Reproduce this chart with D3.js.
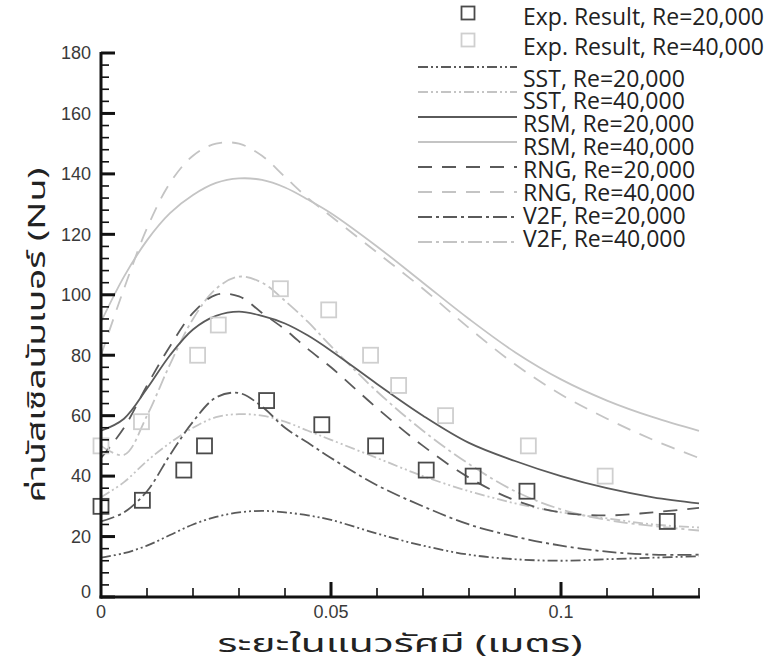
<!DOCTYPE html>
<html>
<head>
<meta charset="utf-8">
<script src="https://cdn.jsdelivr.net/npm/d3@7"></script>
<style>
  html, body { margin: 0; padding: 0; background: #fff; }
  svg { display: block; }
</style>
</head>
<body>
<script>
// ---------------- data ----------------
const xTicks = [0, 0.05, 0.1];
const xTickLabels = ["0", "0.05", "0.1"];
const yTicks = [0, 20, 40, 60, 80, 100, 120, 140, 160, 180];
const xMinorStep = 0.01;
const yMinorStep = 4;

const exp20X = [0, 0.009, 0.018, 0.0225, 0.036, 0.048, 0.0597, 0.0707, 0.0809, 0.0926, 0.1231];
const exp20Y = [30, 32, 42, 50, 65, 57, 50, 42, 40, 35, 25];
const exp40X = [0, 0.0088, 0.021, 0.0255, 0.039, 0.0495, 0.0586, 0.0647, 0.0749, 0.0929, 0.1096];
const exp40Y = [50, 58, 80, 90, 102, 95, 80, 70, 60, 50, 40];

const curveX = [0, 0.005, 0.01, 0.015, 0.02, 0.025, 0.03, 0.035, 0.04, 0.045, 0.05, 0.06, 0.07, 0.08, 0.09, 0.1, 0.11, 0.12, 0.13];
const sst20 = [13, 14.5, 17, 20.5, 24, 26.5, 28, 28.5, 28, 27, 25.5, 21, 17, 14, 12.5, 12, 12.5, 13, 13.5];
const sst40 = [33, 38, 45, 51, 56, 59.5, 60.5, 60, 58, 55, 52, 46, 40, 35, 31, 28, 26, 24, 23];
const rsm20 = [55, 59, 69, 80, 88.5, 93, 94.4, 93, 90.5, 86.5, 81.5, 70.5, 60, 51, 45, 40, 36, 33, 31];
const rsm40 = [91, 106, 118, 127, 133, 137, 138.5, 138, 135.5, 131.5, 127, 116, 104, 92, 81, 72, 65, 59.5, 55];
const rng20 = [46, 56, 70, 83, 94, 100, 99.5, 94, 88.5, 82, 76, 62.5, 50, 39.5, 32, 28, 27, 28, 29.5];
const rng40 = [80, 102, 122, 137, 146, 150, 150, 146, 139, 132, 126, 114, 102, 89, 77, 67, 59, 52, 46];
const v2f20 = [25, 28, 35, 47, 58, 66, 67.5, 63, 56, 51, 46, 37, 30, 24, 20, 17, 15, 14, 14];
const v2f40 = [50, 47, 60, 77, 92, 102, 106, 104, 98, 91, 83, 68, 55, 44, 35, 29, 25.5, 23.5, 22];

const legendLabels = [
  "Exp. Result, Re=20,000", "Exp. Result, Re=40,000",
  "SST, Re=20,000", "SST, Re=40,000",
  "RSM, Re=20,000", "RSM, Re=40,000",
  "RNG, Re=20,000", "RNG, Re=40,000",
  "V2F, Re=20,000", "V2F, Re=40,000"
];

// ---------------- styles ----------------
const DARK = "#5a5a5a", LIGHT = "#c4c4c4";
const SQ_DARK = "#4a4a4a", SQ_LIGHT = "#cfcfcf";
const AXIS = "#111";
const dashSST = "10,3,2,3,2,3";
const dashRNG = "14,10";
const dashV2F = "14,4,3,4";

const series = [
  { name: "SST20", y: sst20, color: DARK, dash: dashSST },
  { name: "SST40", y: sst40, color: LIGHT, dash: dashSST },
  { name: "RSM20", y: rsm20, color: DARK, dash: null },
  { name: "RSM40", y: rsm40, color: LIGHT, dash: null },
  { name: "RNG20", y: rng20, color: DARK, dash: dashRNG },
  { name: "RNG40", y: rng40, color: LIGHT, dash: dashRNG },
  { name: "V2F20", y: v2f20, color: DARK, dash: dashV2F },
  { name: "V2F40", y: v2f40, color: LIGHT, dash: dashV2F }
];

const W = 776, H = 664;
const svg = d3.select("body").append("svg").attr("width", W).attr("height", H);

const x = d3.scaleLinear().domain([0, 0.13]).range([101, 699]);
const y = d3.scaleLinear().domain([0, 180]).range([597, 53]);

// curves
const line = d3.line().x(d => x(d[0])).y(d => y(d[1])).curve(d3.curveCatmullRom.alpha(0.5));
const plot = svg.append("g");
const order = ["RSM40", "RNG40", "V2F40", "SST40", "RSM20", "RNG20", "V2F20", "SST20"];
order.forEach(nm => {
  const s = series.find(d => d.name === nm);
  const pts = curveX.map((xv, i) => [xv, s.y[i]]);
  plot.append("path")
    .attr("d", line(pts))
    .attr("fill", "none")
    .attr("stroke", s.color)
    .attr("stroke-width", 1.8)
    .attr("stroke-dasharray", s.dash);
});

// squares
const SQ = 15;
function squares(xs, ys, color) {
  plot.append("g").selectAll("rect").data(xs.map((v, i) => [v, ys[i]])).join("rect")
    .attr("x", d => x(d[0]) - SQ / 2)
    .attr("y", d => y(d[1]) - SQ / 2)
    .attr("width", SQ).attr("height", SQ)
    .attr("fill", "none").attr("stroke", color).attr("stroke-width", 1.8);
}
squares(exp40X, exp40Y, SQ_LIGHT);
squares(exp20X, exp20Y, SQ_DARK);

// axes with inward ticks, drawn as filled rectangles
const axG = svg.append("g").attr("fill", AXIS);
const x0 = x(0), y0 = y(0);
const AW = 3;
axG.append("rect").attr("x", x0 - AW / 2).attr("y", y(180) - 1).attr("width", AW).attr("height", y0 - y(180) + AW / 2 + 1);
axG.append("rect").attr("x", x0 - AW / 2).attr("y", y0 - AW / 2).attr("width", x(0.13) - x0 + AW / 2 + 1).attr("height", AW);
const yMinorVals = d3.range(0, 180 + 0.001, yMinorStep);
yMinorVals.forEach(v => {
  const major = Math.abs(v % 20) < 1e-6;
  const len = major ? 14 : 8, th = major ? 3 : 1.6;
  axG.append("rect").attr("x", x0).attr("y", y(v) - th / 2).attr("width", len).attr("height", th);
});
const xMinorVals = d3.range(1, 14).map(i => i * xMinorStep);
xMinorVals.forEach((v, i) => {
  const major = (i + 1) % 5 === 0;
  const len = major ? 15 : 9, th = major ? 3 : 1.6;
  axG.append("rect").attr("x", x(v) - th / 2).attr("y", y0 - len).attr("width", th).attr("height", len);
});

const tickFont = "'Liberation Sans', Arial, sans-serif";
svg.append("g").selectAll("text").data(yTicks).join("text")
  .attr("x", 91).attr("y", d => y(d) + (d === 0 ? -5 : 0))
  .attr("dy", "0.35em").attr("text-anchor", "end")
  .attr("font-family", tickFont).attr("font-size", 18).attr("fill", "#3a3a3a")
  .text(d => d);
svg.append("g").selectAll("text").data(xTicks).join("text")
  .attr("x", d => x(d)).attr("y", 618)
  .attr("text-anchor", "middle")
  .attr("font-family", tickFont).attr("font-size", 18).attr("fill", "#3a3a3a")
  .text((d, i) => xTickLabels[i]);

// axis titles
const thaiFont = "'Noto Sans Thai', 'Noto Sans Thai Looped', 'Noto Sans', 'DejaVu Sans', sans-serif";
svg.append("text").attr("x", 400).attr("y", 652).attr("text-anchor", "middle")
  .attr("font-family", thaiFont).attr("font-size", 24).attr("fill", "#222")
  .attr("textLength", 365).attr("lengthAdjust", "spacingAndGlyphs")
  .text("ระยะในแนวรัศมี (เมตร)");
svg.append("text").attr("transform", "translate(45,335) rotate(-90)").attr("text-anchor", "middle")
  .attr("font-family", thaiFont).attr("font-size", 24).attr("fill", "#222")
  .attr("textLength", 335).attr("lengthAdjust", "spacingAndGlyphs")
  .text("ค่านัสเซิลนัมเบอร์ (Nu)");

// legend
const lg = svg.append("g");
const legTextY = [17, 47, 79, 101, 124, 147, 170, 193, 216, 239];
const legSymY = [13, 40, 67, 92, 117, 142, 167, 192, 217, 242];
legendLabels.forEach((lab, i) => {
  lg.append("text").attr("x", 523).attr("y", legTextY[i]).attr("dy", "0.35em")
    .attr("font-family", "'Open Sans', 'Noto Sans', sans-serif").attr("font-size", 23).attr("fill", "#222")
    .text(lab);
  if (i < 2) {
    lg.append("rect").attr("x", 468 - 6.5).attr("y", legSymY[i] - 6.5).attr("width", 13).attr("height", 13)
      .attr("fill", "none").attr("stroke", i === 0 ? SQ_DARK : SQ_LIGHT).attr("stroke-width", 1.8);
  } else {
    const s = series[i - 2];
    lg.append("line").attr("x1", 418).attr("x2", 517).attr("y1", legSymY[i]).attr("y2", legSymY[i])
      .attr("stroke", s.color).attr("stroke-width", 1.8).attr("stroke-dasharray", s.dash);
  }
});
</script>
</body>
</html>
